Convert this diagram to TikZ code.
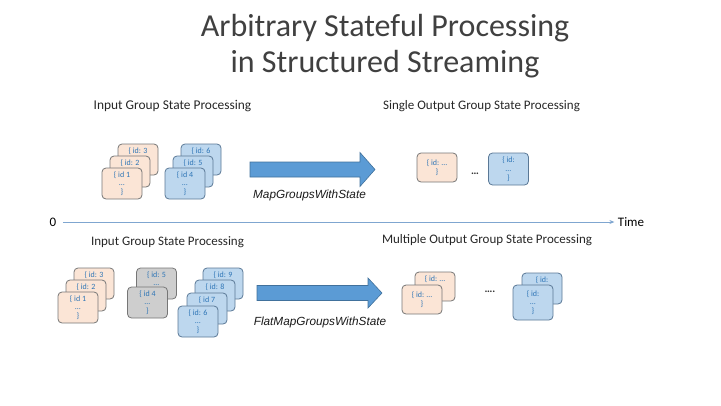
\documentclass[tikz,border=0pt]{standalone}
\usepackage{fontspec}
\setmainfont{Carlito}
\newfontfamily\arialfont{Liberation Sans}
\usetikzlibrary{arrows.meta}
\definecolor{orfill}{HTML}{FBE5D6}
\definecolor{orline}{HTML}{767676}
\definecolor{blfill}{HTML}{BDD7EE}
\definecolor{blline}{HTML}{5A7896}
\definecolor{grfill}{HTML}{CECECE}
\definecolor{grline}{HTML}{767676}
\definecolor{cardtext}{HTML}{2E75B6}
\definecolor{arrfill}{HTML}{5B9BD5}
\definecolor{arrline}{HTML}{41719C}
\definecolor{tline}{HTML}{7FA6D0}
\begin{document}
\begin{tikzpicture}[x=1pt,y=-1pt,
  card/.style={draw, rounded corners=4pt, minimum width=40pt, minimum height=31pt,
    inner sep=0pt, align=center, font=\fontsize{8}{8.8}\selectfont, text=cardtext, line width=0.8pt},
  backtext/.style={text height=9pt, text depth=22pt},
  orcard/.style={card, fill=orfill, draw=orline},
  blcard/.style={card, fill=blfill, draw=blline},
  grcard/.style={card, fill=grfill, draw=grline},
  section/.style={font=\fontsize{13}{15}\selectfont, text=black!85},
  fnlabel/.style={font=\arialfont\itshape\fontsize{11.8}{13}\selectfont, text=black!90},
  bigarrow/.style={fill=arrfill, draw=arrline, line width=0.6pt},
  dots/.style={font=\bfseries\fontsize{11}{13}\selectfont, text=black!80}
]
\useasboundingbox (0,0) rectangle (721,405);

% title
\node[font=\fontsize{32}{38}\selectfont, text=black!75] (title1) at (385,28) {Arbitrary Stateful Processing};
\node[font=\fontsize{32}{38}\selectfont, text=black!75] (title2) at (385,64) {in Structured Streaming};

% section labels
\node[section, font=\fontsize{13.4}{15}\selectfont] (inA) at (172.5,106) {Input Group State Processing};
\node[section] (outA) at (481.5,106) {Single Output Group State Processing};
\node[section] (inB) at (167.5,242) {Input Group State Processing};
\node[section] (outB) at (487,240) {Multiple Output Group State Processing};

% upper input stacks
\node[orcard, backtext] (u3) at (138,159.5) {\{ id: 3};
\node[orcard, backtext] (u2) at (130,171.5) {\{ id: 2};
\node[orcard] (u1) at (122,183.5) {\{ id 1\\\dots\\\}};
\node[blcard, backtext] (u6) at (201,159.5) {\{ id: 6};
\node[blcard, backtext] (u5) at (193,171.5) {\{ id: 5};
\node[blcard] (u4) at (185,183.5) {\{ id 4\\\dots\\\}};

% upper arrow
\coordinate (ua) at (250,169.5);
\fill[bigarrow] (ua) ++(0,-7.5) -- ++(110,0) -- ++(0,-9.5) -- ++(15,17) -- ++(-15,17) -- ++(0,-9.5) -- ++(-110,0) -- cycle;
\node[fnlabel] (mg) at (309.5,195) {MapGroupsWithState};

% upper output
\node[orcard, minimum height=29pt] (uo1) at (437,167.5) {\{ id: \dots\\\}};
\node[dots] (udots) at (475,174) {\dots};
\node[blcard, minimum height=32pt] (uo2) at (508.5,169) {\{ id:\\\dots\\\}};

% timeline
\node[font=\fontsize{13}{15}\selectfont] (zero) at (53,222) {0};
\node[font=\fontsize{13}{15}\selectfont] (time) at (631,222) {Time};
\draw[tline, line width=0.8pt, -{Stealth[length=5pt,width=4pt]}] (zero.east) ++(3,0) -- (time.west);

% lower input stacks
\node[orcard, backtext] (l3) at (94,283.5) {\{ id: 3};
\node[orcard, backtext] (l2) at (86,295.5) {\{ id: 2};
\node[orcard] (l1) at (78,307.5) {\{ id 1\\\dots\\\}};
\node[grcard, text height=17.8pt, text depth=13.2pt] (l5) at (156.5,283.5) {\{ id: 5\\\dots};
\node[grcard] (l4) at (147.5,302.5) {\{ id 4\\\dots\\\}};
\node[blcard, backtext] (l9) at (223,283.5) {\{ id: 9};
\node[blcard, backtext] (l8) at (215,295.5) {\{ id: 8};
\node[blcard, backtext] (l7) at (207,308.5) {\{ id 7};
\node[blcard] (l6) at (198,321.5) {\{ id: 6\\\dots\\\}};

% lower arrow
\coordinate (la) at (257,293);
\fill[bigarrow] (la) ++(0,-7.5) -- ++(111,0) -- ++(0,-7.5) -- ++(14,15) -- ++(-14,15) -- ++(0,-7.5) -- ++(-111,0) -- cycle;
\node[fnlabel] (fmg) at (320,322) {FlatMapGroupsWithState};

% lower output
\node[orcard, minimum height=29pt, backtext, text depth=20pt] (lo2) at (435,286.5) {\{ id: \dots};
\node[orcard, minimum height=29pt] (lo1) at (422,299.5) {\{ id: \dots\\\}};
\node[dots] (ldots) at (490,292) {\dots.};
\node[blcard, backtext] (lo4) at (542,288.5) {\{ id:};
\node[blcard, minimum height=35pt] (lo3) at (533,302.5) {\{ id:\\\dots\\\}};
\end{tikzpicture}
\end{document}
